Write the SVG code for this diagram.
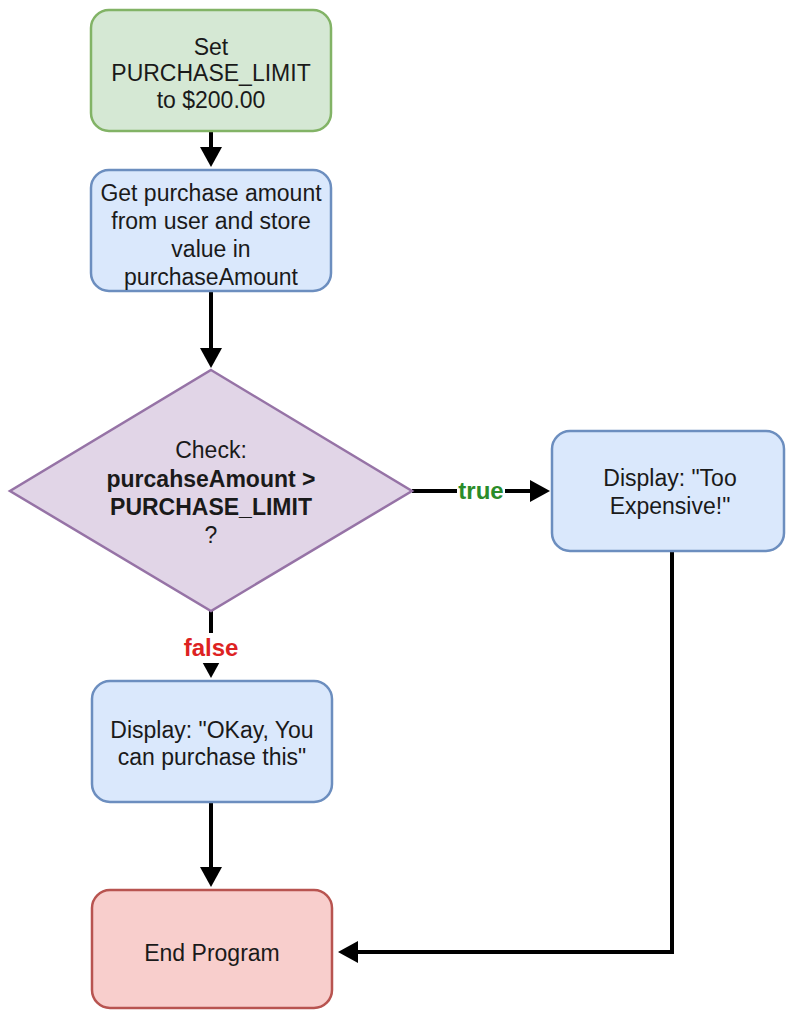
<svg xmlns="http://www.w3.org/2000/svg" width="786" height="1010" viewBox="0 0 786 1010">
<defs>
<marker id="arr" markerUnits="userSpaceOnUse" markerWidth="22" markerHeight="22" refX="2" refY="11" orient="auto">
<path d="M0,0 L20,11 L0,22 z" fill="#000"/>
</marker>
<style>
.t{font-family:"Liberation Sans",Arial,sans-serif;font-size:23px;fill:#1a1a1a;text-anchor:middle}
.b{font-weight:bold}
.e{fill:none;stroke:#000;stroke-width:4;marker-end:url(#arr)}
.lbl{font-family:"Liberation Sans",Arial,sans-serif;font-size:24px;font-weight:bold;text-anchor:middle}
</style>
</defs>
<rect width="786" height="1010" fill="#fff"/>
<g id="connectors">
<line class="e" x1="211" y1="131" x2="211" y2="149"/>
<line class="e" x1="211" y1="291" x2="211" y2="350"/>
<line class="e" x1="412" y1="491" x2="532" y2="491"/>
<line class="e" x1="211" y1="611" x2="211" y2="660"/>
<line class="e" x1="211" y1="802" x2="211" y2="869"/>
<polyline class="e" points="672,551 672,952 356,952"/>
<rect x="457" y="478" width="48" height="26" fill="#fff"/>
<text class="lbl" x="481" y="499" fill="#2a8c2a">true</text>
<rect x="177" y="633" width="68" height="30" fill="#fff"/>
<text class="lbl" x="211" y="656" fill="#dd2222">false</text>
</g>
<g id="n1">
<rect x="91" y="10" width="240" height="121" rx="18" fill="#d5e8d4" stroke="#82b366" stroke-width="2.5"/>
<text class="t" x="211" y="55">Set</text>
<text class="t" x="211" y="81">PURCHASE_LIMIT</text>
<text class="t" x="211" y="108">to $200.00</text>
</g>
<g id="n2">
<rect x="91" y="170" width="240" height="121" rx="18" fill="#dae8fc" stroke="#6c8ebf" stroke-width="2.5"/>
<text class="t" x="211" y="201">Get purchase amount</text>
<text class="t" x="211" y="229">from user and store</text>
<text class="t" x="211" y="257">value in</text>
<text class="t" x="211" y="285">purchaseAmount</text>
</g>
<g id="n3">
<polygon points="211,370 412,491 211,611 10,491" fill="#e1d5e7" stroke="#9673a6" stroke-width="2.5"/>
<text class="t" x="211" y="458">Check:</text>
<text class="t b" x="211" y="487">purcahseAmount &gt;</text>
<text class="t b" x="211" y="515">PURCHASE_LIMIT</text>
<text class="t" x="211" y="543">?</text>
</g>
<g id="n4">
<rect x="552" y="431" width="232" height="120" rx="18" fill="#dae8fc" stroke="#6c8ebf" stroke-width="2.5"/>
<text class="t" x="670" y="486">Display: "Too</text>
<text class="t" x="670" y="514">Expensive!"</text>
</g>
<g id="n5">
<rect x="92" y="681" width="240" height="121" rx="18" fill="#dae8fc" stroke="#6c8ebf" stroke-width="2.5"/>
<text class="t" x="212" y="738">Display: "OKay, You</text>
<text class="t" x="212" y="765">can purchase this"</text>
</g>
<g id="n6">
<rect x="92" y="890" width="240" height="118" rx="18" fill="#f8cecc" stroke="#b85450" stroke-width="2.5"/>
<text class="t" x="212" y="961">End Program</text>
</g>
</svg>
